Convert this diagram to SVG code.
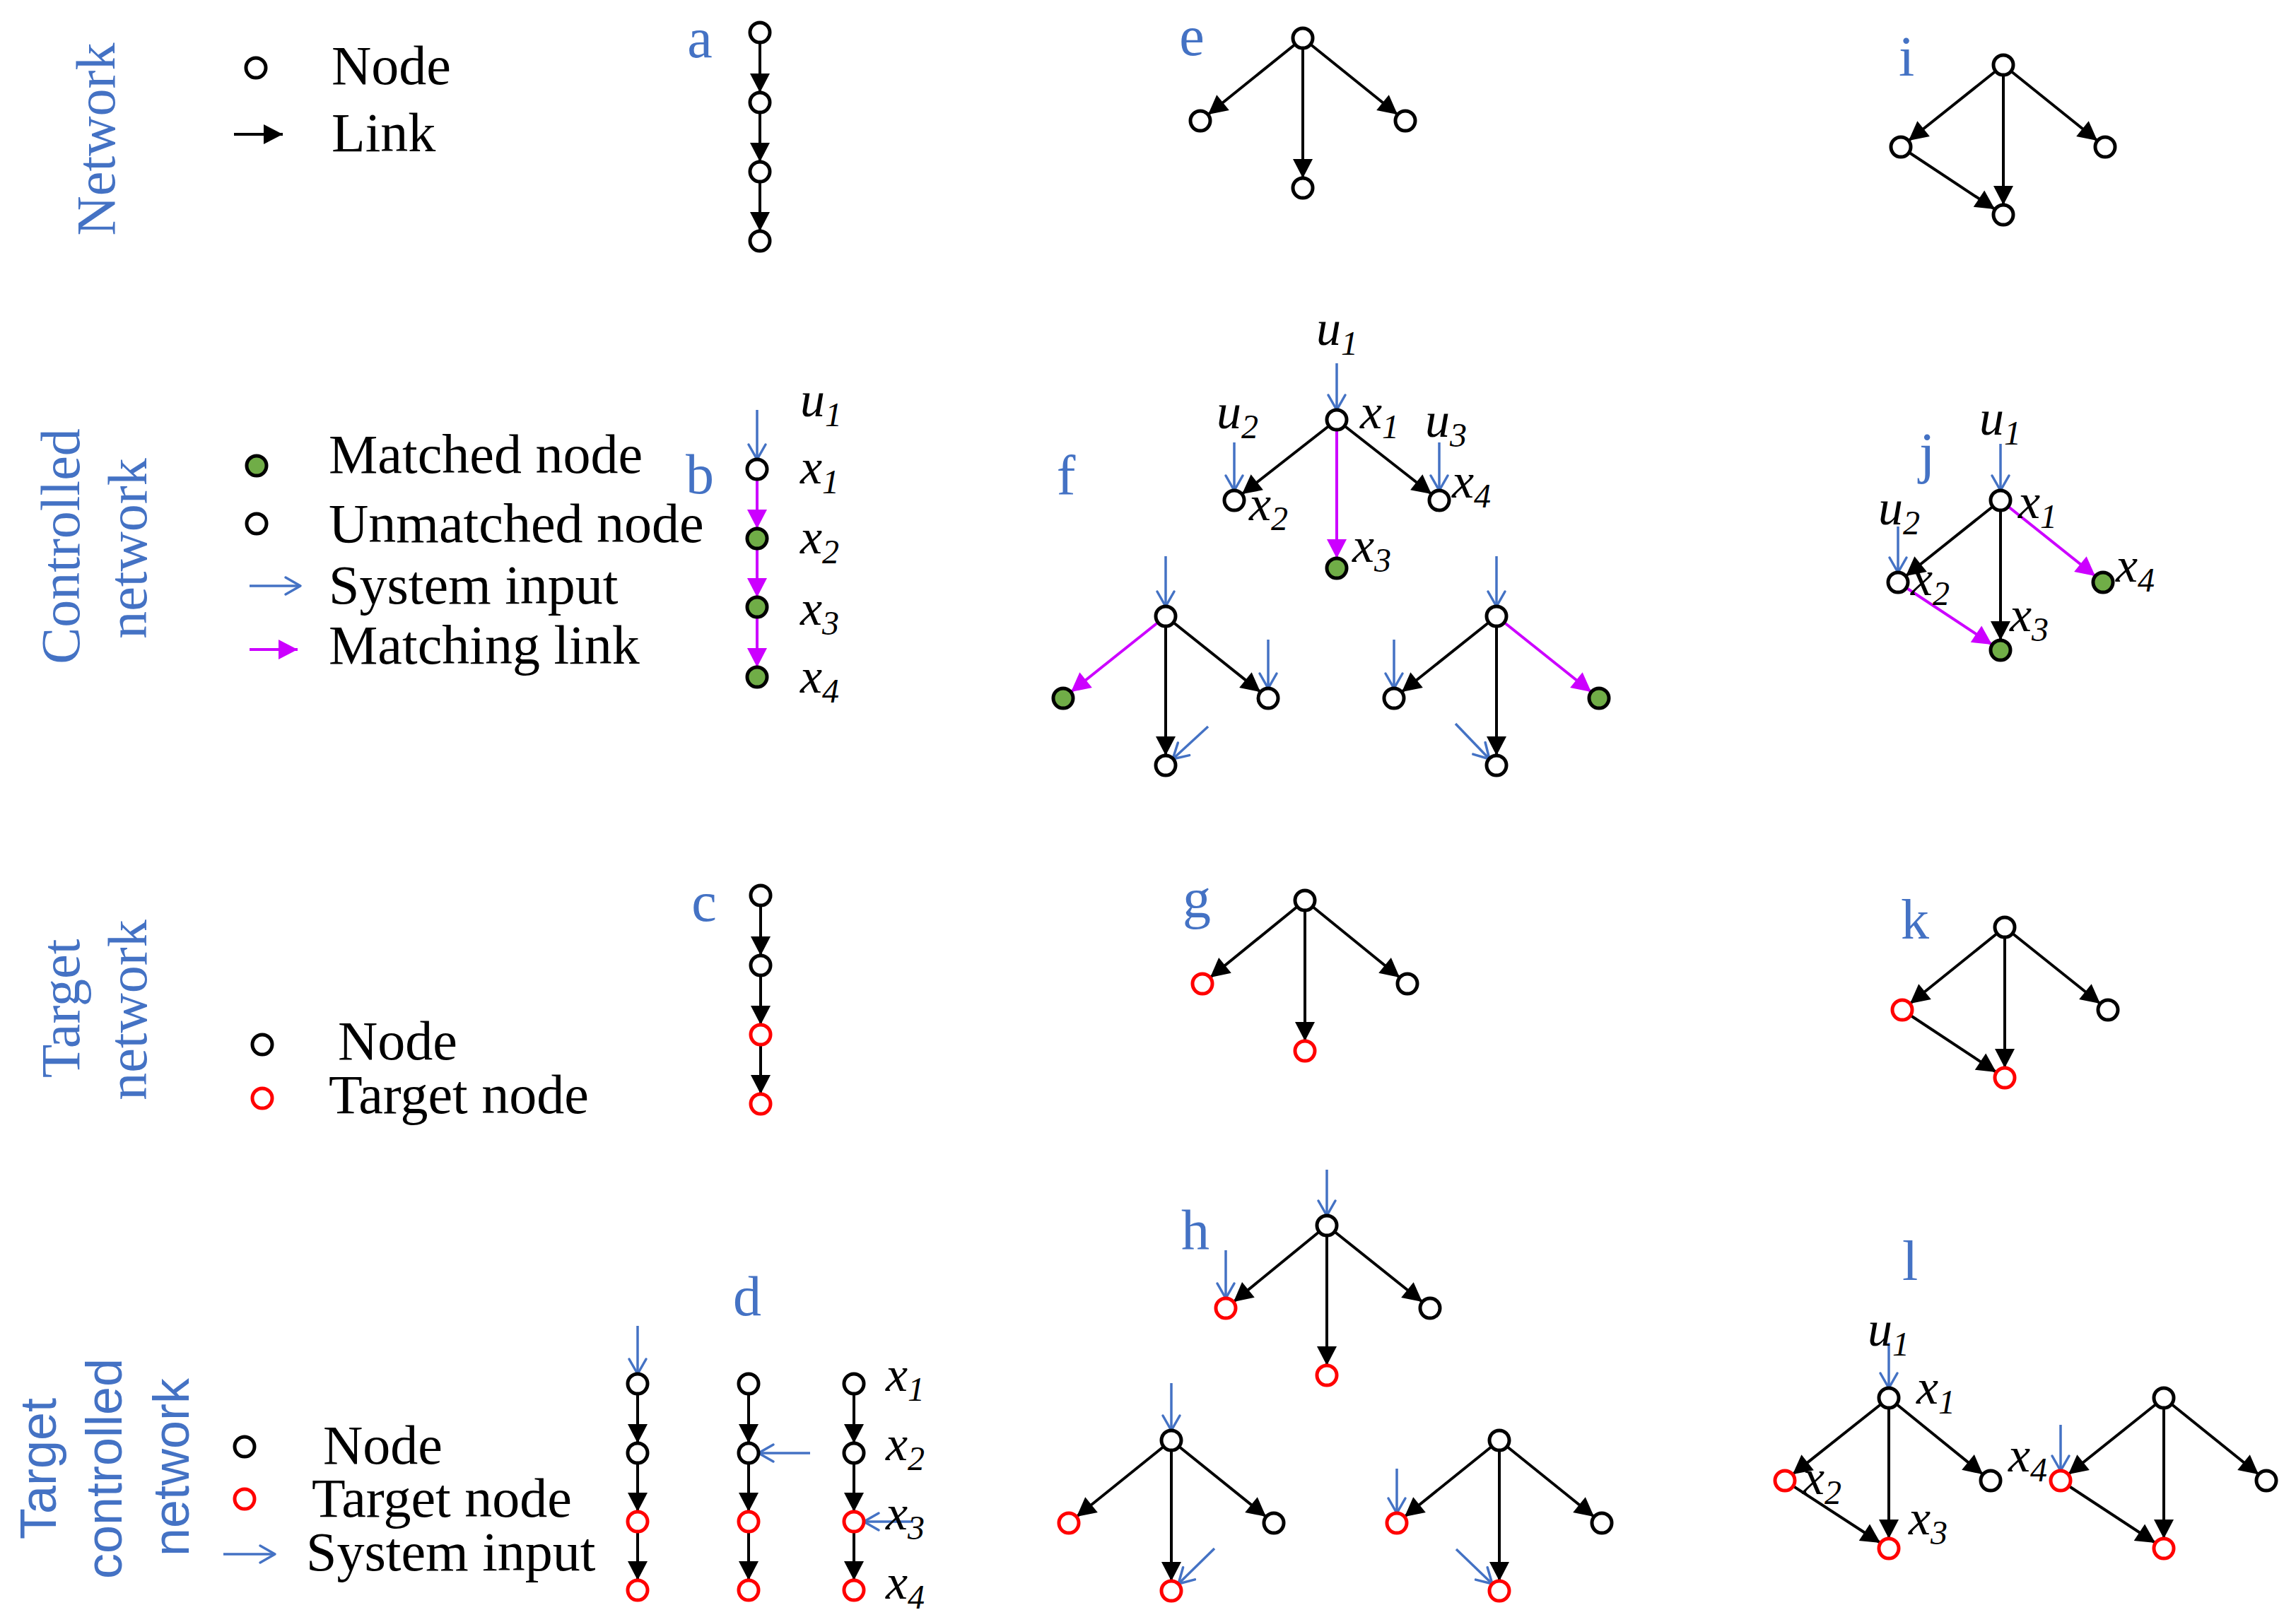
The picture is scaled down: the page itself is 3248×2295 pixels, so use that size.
<svg xmlns="http://www.w3.org/2000/svg" width="3248" height="2295" viewBox="0 0 3248 2295">
<style>
.n{fill:#fff;stroke:#000;stroke-width:5}
.t{fill:#fff;stroke:#ff0000;stroke-width:5}
.m{fill:#70AD47;stroke:#000;stroke-width:5}
.e{stroke:#000;stroke-width:4;fill:none;marker-end:url(#ab)}
.mg{stroke:#CC00FF;stroke-width:4;fill:none;marker-end:url(#am)}
.in{stroke:#4472C4;stroke-width:3.5;fill:none;marker-end:url(#ai)}
.pl{font-family:"Liberation Serif","Times New Roman",serif;font-size:80px;fill:#4472C4;text-anchor:middle}
.rl{font-family:"Liberation Serif","Times New Roman",serif;font-size:78px;fill:#4472C4;text-anchor:middle}
.rs{font-family:"Liberation Sans",Arial,sans-serif;font-size:72px;fill:#4472C4;text-anchor:middle}
.lg{font-family:"Liberation Serif","Times New Roman",serif;font-size:78px;fill:#000}
.it{font-family:"Liberation Serif","Times New Roman",serif;font-style:italic;font-size:70px;fill:#000}
.sub{font-size:48px}
</style>
<defs>
<marker id="ab" markerUnits="userSpaceOnUse" markerWidth="28" markerHeight="28" refX="27" refY="14" orient="auto" overflow="visible"><path d="M0,0 L27,14 L0,28 z" fill="#000"/></marker>
<marker id="am" markerUnits="userSpaceOnUse" markerWidth="28" markerHeight="28" refX="27" refY="14" orient="auto" overflow="visible"><path d="M0,0 L27,14 L0,28 z" fill="#CC00FF"/></marker>
<marker id="ai" markerUnits="userSpaceOnUse" markerWidth="26" markerHeight="28" refX="22" refY="13" orient="auto" overflow="visible"><path d="M1,1 L22,13 L1,25" fill="none" stroke="#4472C4" stroke-width="3.5" stroke-linecap="round" stroke-linejoin="round"/></marker>
</defs>
<rect width="3248" height="2295" fill="#fff"/>

<g id="row-labels">
<text class="rl" transform="translate(162,197) rotate(-90)">Network</text>
<text class="rl" transform="translate(112,773) rotate(-90)">Controlled</text>
<text class="rl" transform="translate(207,776) rotate(-90)">network</text>
<text class="rl" transform="translate(112,1427) rotate(-90)">Target</text>
<text class="rl" transform="translate(207,1429) rotate(-90)">network</text>
<text class="rs" transform="translate(79,2078) rotate(-90)">Target</text>
<text class="rs" transform="translate(172,2078) rotate(-90)">controlled</text>
<text class="rs" transform="translate(267,2076) rotate(-90)">network</text>
</g>

<g id="panel-letters">
<text class="pl" x="990" y="81">a</text>
<text class="pl" x="990" y="698">b</text>
<text class="pl" x="996" y="1303">c</text>
<text class="pl" x="1057" y="1861">d</text>
<text class="pl" x="1686" y="78">e</text>
<text class="pl" x="1508" y="700">f</text>
<text class="pl" x="1693" y="1298">g</text>
<text class="pl" x="1691" y="1767">h</text>
<text class="pl" x="2697" y="107">i</text>
<text class="pl" x="2726" y="668">j</text>
<text class="pl" x="2709" y="1328">k</text>
<text class="pl" x="2702" y="1811">l</text>
</g>

<g id="legend-text">
<text class="lg" x="469" y="119">Node</text>
<text class="lg" x="469" y="214">Link</text>
<text class="lg" x="465" y="669">Matched node</text>
<text class="lg" x="465" y="767">Unmatched node</text>
<text class="lg" x="465" y="854">System input</text>
<text class="lg" x="465" y="939">Matching link</text>
<text class="lg" x="478" y="1499">Node</text>
<text class="lg" x="465" y="1575">Target node</text>
<text class="lg" x="457" y="2071">Node</text>
<text class="lg" x="441" y="2146">Target node</text>
<text class="lg" x="433" y="2222">System input</text>
</g>

<g id="connectors">
<line class="e" x1="331" y1="190" x2="400" y2="190"/>
<line class="in" x1="353" y1="829" x2="425" y2="829"/>
<line class="mg" x1="353" y1="919" x2="421" y2="919"/>
<line class="in" x1="316" y1="2199" x2="389" y2="2199"/>
<!-- a -->
<line class="e" x1="1075" y1="46" x2="1075" y2="131"/>
<line class="e" x1="1075" y1="145" x2="1075" y2="229"/>
<line class="e" x1="1075" y1="243" x2="1075" y2="327"/>
<!-- b -->
<line class="in" x1="1071" y1="580" x2="1071" y2="650"/>
<line class="mg" x1="1071" y1="664" x2="1071" y2="748"/>
<line class="mg" x1="1071" y1="762" x2="1071" y2="845"/>
<line class="mg" x1="1071" y1="859" x2="1071" y2="944"/>
<!-- c -->
<line class="e" x1="1076" y1="1267" x2="1076" y2="1352"/>
<line class="e" x1="1076" y1="1366" x2="1076" y2="1450"/>
<line class="e" x1="1076" y1="1464" x2="1076" y2="1548"/>
<!-- d -->
<line class="e" x1="902" y1="1958" x2="902" y2="2042"/>
<line class="e" x1="902" y1="2056" x2="902" y2="2139"/>
<line class="e" x1="902" y1="2153" x2="902" y2="2236"/>
<line class="e" x1="1059" y1="1958" x2="1059" y2="2042"/>
<line class="e" x1="1059" y1="2056" x2="1059" y2="2139"/>
<line class="e" x1="1059" y1="2153" x2="1059" y2="2236"/>
<line class="e" x1="1208" y1="1958" x2="1208" y2="2042"/>
<line class="e" x1="1208" y1="2056" x2="1208" y2="2139"/>
<line class="e" x1="1208" y1="2153" x2="1208" y2="2236"/>
<line class="in" x1="902" y1="1876" x2="902" y2="1944"/>
<line class="in" x1="1146" y1="2056" x2="1073" y2="2056"/>
<line class="in" x1="1292" y1="2153" x2="1222" y2="2153"/>
<!-- e -->
<line class="e" x1="1843" y1="54" x2="1709" y2="162"/>
<line class="e" x1="1843" y1="54" x2="1843" y2="252"/>
<line class="e" x1="1843" y1="54" x2="1977" y2="162"/>
<!-- f top -->
<line class="e" x1="1891" y1="594" x2="1757" y2="699"/>
<line class="mg" x1="1891" y1="594" x2="1891" y2="790"/>
<line class="e" x1="1891" y1="594" x2="2025" y2="699"/>
<line class="in" x1="1891" y1="514" x2="1891" y2="580"/>
<line class="in" x1="1746" y1="626" x2="1746" y2="694"/>
<line class="in" x1="2036" y1="626" x2="2036" y2="694"/>
<!-- f bottom-left -->
<line class="mg" x1="1649" y1="872" x2="1515" y2="979"/>
<line class="e" x1="1649" y1="872" x2="1649" y2="1069"/>
<line class="e" x1="1649" y1="872" x2="1783" y2="979"/>
<line class="in" x1="1649" y1="787" x2="1649" y2="858"/>
<line class="in" x1="1794" y1="905" x2="1794" y2="974"/>
<line class="in" x1="1709" y1="1028" x2="1659" y2="1074"/>
<!-- f bottom-right -->
<line class="e" x1="2117" y1="872" x2="1983" y2="979"/>
<line class="e" x1="2117" y1="872" x2="2117" y2="1069"/>
<line class="mg" x1="2117" y1="872" x2="2251" y2="979"/>
<line class="in" x1="2117" y1="787" x2="2117" y2="858"/>
<line class="in" x1="1972" y1="905" x2="1972" y2="974"/>
<line class="in" x1="2059" y1="1024" x2="2107" y2="1074"/>
<!-- g -->
<line class="e" x1="1846" y1="1274" x2="1712" y2="1383"/>
<line class="e" x1="1846" y1="1274" x2="1846" y2="1473"/>
<line class="e" x1="1846" y1="1274" x2="1980" y2="1383"/>
<!-- h top -->
<line class="e" x1="1877" y1="1734" x2="1745" y2="1842"/>
<line class="e" x1="1877" y1="1734" x2="1877" y2="1932"/>
<line class="e" x1="1877" y1="1734" x2="2012" y2="1842"/>
<line class="in" x1="1877" y1="1655" x2="1877" y2="1720"/>
<line class="in" x1="1734" y1="1769" x2="1734" y2="1837"/>
<!-- h bottom-left -->
<line class="e" x1="1657" y1="2038" x2="1523" y2="2146"/>
<line class="e" x1="1657" y1="2038" x2="1657" y2="2237"/>
<line class="e" x1="1657" y1="2038" x2="1791" y2="2146"/>
<line class="in" x1="1657" y1="1957" x2="1657" y2="2024"/>
<line class="in" x1="1718" y1="2191" x2="1667" y2="2241"/>
<!-- h bottom-right -->
<line class="e" x1="2121" y1="2038" x2="1987" y2="2146"/>
<line class="e" x1="2121" y1="2038" x2="2121" y2="2237"/>
<line class="e" x1="2121" y1="2038" x2="2255" y2="2146"/>
<line class="in" x1="1976" y1="2078" x2="1976" y2="2141"/>
<line class="in" x1="2060" y1="2192" x2="2111" y2="2241"/>
<!-- i -->
<line class="e" x1="2834" y1="92" x2="2700" y2="199"/>
<line class="e" x1="2834" y1="92" x2="2834" y2="290"/>
<line class="e" x1="2834" y1="92" x2="2967" y2="199"/>
<line class="e" x1="2689" y1="208" x2="2822" y2="296"/>
<!-- j -->
<line class="e" x1="2830" y1="708" x2="2696" y2="815"/>
<line class="e" x1="2830" y1="708" x2="2830" y2="906"/>
<line class="mg" x1="2830" y1="708" x2="2964" y2="815"/>
<line class="mg" x1="2685" y1="824" x2="2818" y2="912"/>
<line class="in" x1="2830" y1="628" x2="2830" y2="694"/>
<line class="in" x1="2685" y1="745" x2="2685" y2="810"/>
<!-- k -->
<line class="e" x1="2836" y1="1312" x2="2702" y2="1420"/>
<line class="e" x1="2836" y1="1312" x2="2836" y2="1511"/>
<line class="e" x1="2836" y1="1312" x2="2971" y2="1420"/>
<line class="e" x1="2691" y1="1429" x2="2824" y2="1517"/>
<!-- l -->
<line class="e" x1="2672" y1="1978" x2="2536" y2="2086"/>
<line class="e" x1="2672" y1="1978" x2="2672" y2="2177"/>
<line class="e" x1="2672" y1="1978" x2="2805" y2="2086"/>
<line class="e" x1="2525" y1="2095" x2="2660" y2="2183"/>
<line class="e" x1="3061" y1="1978" x2="2926" y2="2086"/>
<line class="e" x1="3061" y1="1978" x2="3061" y2="2177"/>
<line class="e" x1="3061" y1="1978" x2="3195" y2="2086"/>
<line class="e" x1="2915" y1="2095" x2="3049" y2="2183"/>
<line class="in" x1="2672" y1="1900" x2="2672" y2="1964"/>
<line class="in" x1="2915" y1="2016" x2="2915" y2="2081"/>
</g>

<g id="nodes">
<g id="leg1-node"><circle class="n" cx="362" cy="96" r="14"/></g>
<g id="leg2-matched"><circle class="m" cx="363" cy="659" r="14"/></g>
<g id="leg2-unmatched"><circle class="n" cx="363" cy="741" r="14"/></g>
<g id="leg3-node"><circle class="n" cx="371" cy="1478" r="14"/></g>
<g id="leg3-target"><circle class="t" cx="371" cy="1554" r="14"/></g>
<g id="leg4-node"><circle class="n" cx="346" cy="2047" r="14"/></g>
<g id="leg4-target"><circle class="t" cx="346" cy="2121" r="14"/></g>

<g id="a1"><circle class="n" cx="1075" cy="46" r="14"/></g>
<g id="a2"><circle class="n" cx="1075" cy="145" r="14"/></g>
<g id="a3"><circle class="n" cx="1075" cy="243" r="14"/></g>
<g id="a4"><circle class="n" cx="1075" cy="341" r="14"/></g>

<g id="b1"><circle class="n" cx="1071" cy="664" r="14"/></g>
<g id="b2"><circle class="m" cx="1071" cy="762" r="14"/></g>
<g id="b3"><circle class="m" cx="1071" cy="859" r="14"/></g>
<g id="b4"><circle class="m" cx="1071" cy="958" r="14"/></g>

<g id="c1"><circle class="n" cx="1076" cy="1267" r="14"/></g>
<g id="c2"><circle class="n" cx="1076" cy="1366" r="14"/></g>
<g id="c3"><circle class="t" cx="1076" cy="1464" r="14"/></g>
<g id="c4"><circle class="t" cx="1076" cy="1562" r="14"/></g>

<g id="d1-1"><circle class="n" cx="902" cy="1958" r="14"/></g>
<g id="d1-2"><circle class="n" cx="902" cy="2056" r="14"/></g>
<g id="d1-3"><circle class="t" cx="902" cy="2153" r="14"/></g>
<g id="d1-4"><circle class="t" cx="902" cy="2250" r="14"/></g>
<g id="d2-1"><circle class="n" cx="1059" cy="1958" r="14"/></g>
<g id="d2-2"><circle class="n" cx="1059" cy="2056" r="14"/></g>
<g id="d2-3"><circle class="t" cx="1059" cy="2153" r="14"/></g>
<g id="d2-4"><circle class="t" cx="1059" cy="2250" r="14"/></g>
<g id="d3-1"><circle class="n" cx="1208" cy="1958" r="14"/></g>
<g id="d3-2"><circle class="n" cx="1208" cy="2056" r="14"/></g>
<g id="d3-3"><circle class="t" cx="1208" cy="2153" r="14"/></g>
<g id="d3-4"><circle class="t" cx="1208" cy="2250" r="14"/></g>

<g id="e1"><circle class="n" cx="1843" cy="54" r="14"/></g>
<g id="e2"><circle class="n" cx="1698" cy="171" r="14"/></g>
<g id="e3"><circle class="n" cx="1843" cy="266" r="14"/></g>
<g id="e4"><circle class="n" cx="1988" cy="171" r="14"/></g>

<g id="f-x1"><circle class="n" cx="1891" cy="594" r="14"/></g>
<g id="f-x2"><circle class="n" cx="1746" cy="708" r="14"/></g>
<g id="f-x3"><circle class="m" cx="1891" cy="804" r="14"/></g>
<g id="f-x4"><circle class="n" cx="2036" cy="708" r="14"/></g>
<g id="fL1"><circle class="n" cx="1649" cy="872" r="14"/></g>
<g id="fL2"><circle class="m" cx="1504" cy="988" r="14"/></g>
<g id="fL3"><circle class="n" cx="1649" cy="1083" r="14"/></g>
<g id="fL4"><circle class="n" cx="1794" cy="988" r="14"/></g>
<g id="fR1"><circle class="n" cx="2117" cy="872" r="14"/></g>
<g id="fR2"><circle class="n" cx="1972" cy="988" r="14"/></g>
<g id="fR3"><circle class="n" cx="2117" cy="1083" r="14"/></g>
<g id="fR4"><circle class="m" cx="2262" cy="988" r="14"/></g>

<g id="g1"><circle class="n" cx="1846" cy="1274" r="14"/></g>
<g id="g2"><circle class="t" cx="1701" cy="1392" r="14"/></g>
<g id="g3"><circle class="t" cx="1846" cy="1487" r="14"/></g>
<g id="g4"><circle class="n" cx="1991" cy="1392" r="14"/></g>

<g id="h1"><circle class="n" cx="1877" cy="1734" r="14"/></g>
<g id="h2"><circle class="t" cx="1734" cy="1851" r="14"/></g>
<g id="h3"><circle class="t" cx="1877" cy="1946" r="14"/></g>
<g id="h4"><circle class="n" cx="2023" cy="1851" r="14"/></g>
<g id="hL1"><circle class="n" cx="1657" cy="2038" r="14"/></g>
<g id="hL2"><circle class="t" cx="1512" cy="2155" r="14"/></g>
<g id="hL3"><circle class="t" cx="1657" cy="2251" r="14"/></g>
<g id="hL4"><circle class="n" cx="1802" cy="2155" r="14"/></g>
<g id="hR1"><circle class="n" cx="2121" cy="2038" r="14"/></g>
<g id="hR2"><circle class="t" cx="1976" cy="2155" r="14"/></g>
<g id="hR3"><circle class="t" cx="2121" cy="2251" r="14"/></g>
<g id="hR4"><circle class="n" cx="2266" cy="2155" r="14"/></g>

<g id="i1"><circle class="n" cx="2834" cy="92" r="14"/></g>
<g id="i2"><circle class="n" cx="2689" cy="208" r="14"/></g>
<g id="i3"><circle class="n" cx="2834" cy="304" r="14"/></g>
<g id="i4"><circle class="n" cx="2978" cy="208" r="14"/></g>

<g id="j-x1"><circle class="n" cx="2830" cy="708" r="14"/></g>
<g id="j-x2"><circle class="n" cx="2685" cy="824" r="14"/></g>
<g id="j-x3"><circle class="m" cx="2830" cy="920" r="14"/></g>
<g id="j-x4"><circle class="m" cx="2975" cy="824" r="14"/></g>

<g id="k1"><circle class="n" cx="2836" cy="1312" r="14"/></g>
<g id="k2"><circle class="t" cx="2691" cy="1429" r="14"/></g>
<g id="k3"><circle class="t" cx="2836" cy="1525" r="14"/></g>
<g id="k4"><circle class="n" cx="2982" cy="1429" r="14"/></g>

<g id="l-x1"><circle class="n" cx="2672" cy="1978" r="14"/></g>
<g id="l-x2"><circle class="t" cx="2525" cy="2095" r="14"/></g>
<g id="l-x3"><circle class="t" cx="2672" cy="2191" r="14"/></g>
<g id="l-r"><circle class="n" cx="2816" cy="2095" r="14"/></g>
<g id="l2-1"><circle class="n" cx="3061" cy="1978" r="14"/></g>
<g id="l2-x4"><circle class="t" cx="2915" cy="2095" r="14"/></g>
<g id="l2-3"><circle class="t" cx="3061" cy="2191" r="14"/></g>
<g id="l2-4"><circle class="n" cx="3206" cy="2095" r="14"/></g>
</g>

<g id="var-labels">
<text class="it" x="1132" y="589">u<tspan class="sub" dy="14">1</tspan></text>
<text class="it" x="1132" y="684">x<tspan class="sub" dy="14">1</tspan></text>
<text class="it" x="1132" y="783">x<tspan class="sub" dy="14">2</tspan></text>
<text class="it" x="1132" y="884">x<tspan class="sub" dy="14">3</tspan></text>
<text class="it" x="1132" y="980">x<tspan class="sub" dy="14">4</tspan></text>

<text class="it" x="1253" y="1968">x<tspan class="sub" dy="14">1</tspan></text>
<text class="it" x="1253" y="2066">x<tspan class="sub" dy="14">2</tspan></text>
<text class="it" x="1253" y="2164">x<tspan class="sub" dy="14">3</tspan></text>
<text class="it" x="1253" y="2262">x<tspan class="sub" dy="14">4</tspan></text>

<text class="it" x="1862" y="488">u<tspan class="sub" dy="14">1</tspan></text>
<text class="it" x="1721" y="606">u<tspan class="sub" dy="14">2</tspan></text>
<text class="it" x="2016" y="618">u<tspan class="sub" dy="14">3</tspan></text>
<text class="it" x="1924" y="606">x<tspan class="sub" dy="14">1</tspan></text>
<text class="it" x="1767" y="736">x<tspan class="sub" dy="14">2</tspan></text>
<text class="it" x="1913" y="795">x<tspan class="sub" dy="14">3</tspan></text>
<text class="it" x="2054" y="704">x<tspan class="sub" dy="14">4</tspan></text>

<text class="it" x="2800" y="615">u<tspan class="sub" dy="14">1</tspan></text>
<text class="it" x="2657" y="742">u<tspan class="sub" dy="14">2</tspan></text>
<text class="it" x="2855" y="733">x<tspan class="sub" dy="14">1</tspan></text>
<text class="it" x="2703" y="842">x<tspan class="sub" dy="14">2</tspan></text>
<text class="it" x="2843" y="893">x<tspan class="sub" dy="14">3</tspan></text>
<text class="it" x="2993" y="823">x<tspan class="sub" dy="14">4</tspan></text>

<text class="it" x="2642" y="1904">u<tspan class="sub" dy="14">1</tspan></text>
<text class="it" x="2711" y="1986">x<tspan class="sub" dy="14">1</tspan></text>
<text class="it" x="2550" y="2114">x<tspan class="sub" dy="14">2</tspan></text>
<text class="it" x="2700" y="2171">x<tspan class="sub" dy="14">3</tspan></text>
<text class="it" x="2841" y="2082">x<tspan class="sub" dy="14">4</tspan></text>
</g>
</svg>
